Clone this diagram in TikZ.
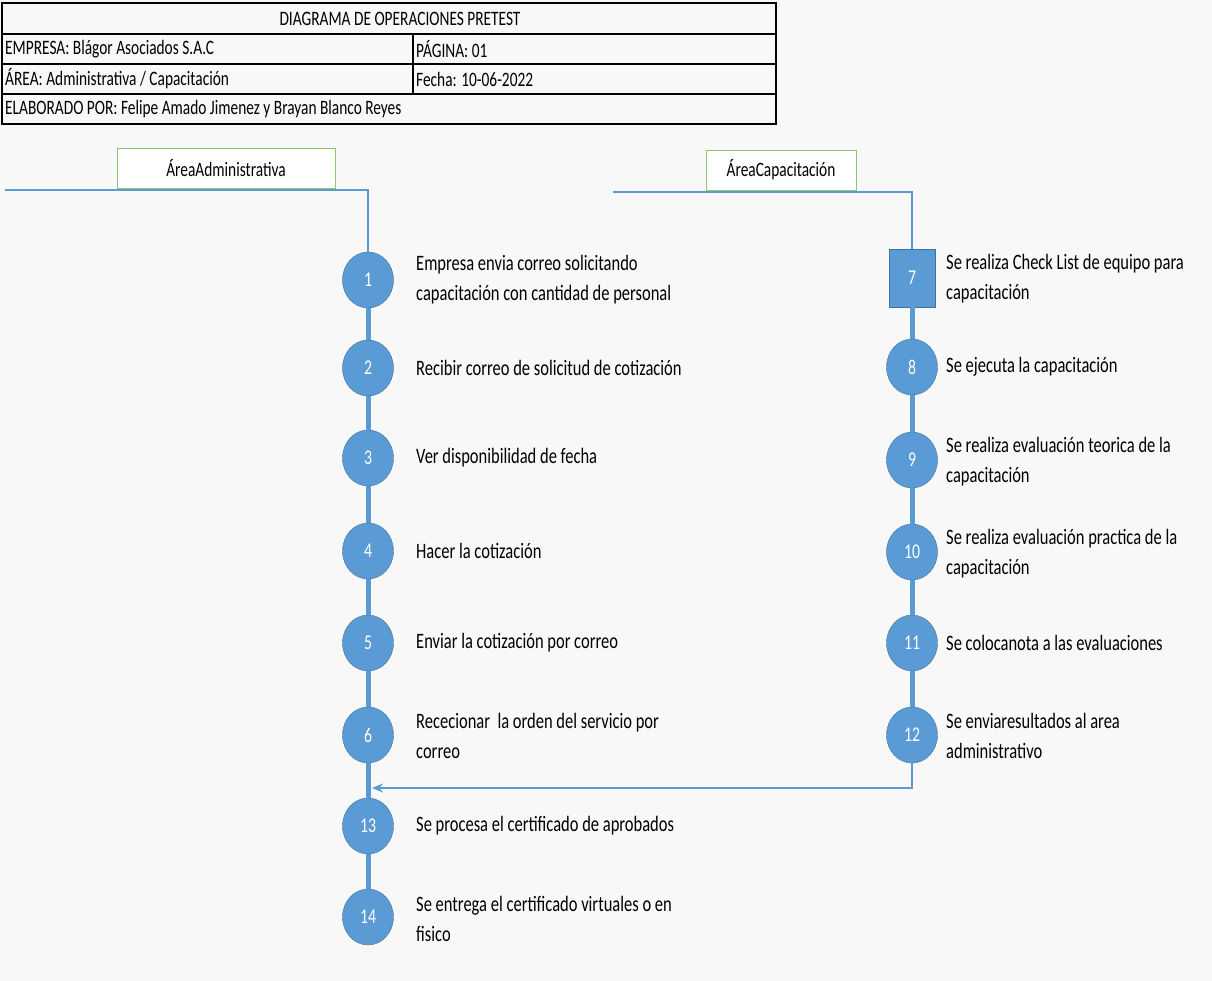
\documentclass[tikz,border=0pt]{standalone}
\usepackage{fontspec}
\setmainfont[FakeStretch=0.75]{Carlito}
\usepackage[dvipsnames]{xcolor}
\usetikzlibrary{shapes.geometric,arrows.meta}
\definecolor{opblue}{RGB}{91,155,213}
\definecolor{opedge}{RGB}{65,113,156}
\definecolor{areagreen}{RGB}{146,196,110}
\definecolor{paper}{RGB}{248,248,248}

\begin{document}
\begin{tikzpicture}[x=1pt,y=-1pt,>={Stealth[length=11pt,width=9pt]},
    op node/.style={ellipse,draw=opedge,fill=opblue,minimum width=51pt,minimum height=56pt,inner sep=0pt,text=white,font=\fontsize{21}{21}\selectfont},
    check node/.style={rectangle,draw=opedge,fill=opblue,minimum width=46pt,minimum height=58pt,inner sep=0pt,text=white,font=\fontsize{21}{21}\selectfont},
    text node/.style={anchor=west,align=left,inner sep=0pt,font=\fontsize{22}{30}\selectfont},
    head node/.style={anchor=west,inner sep=0pt,font=\fontsize{20.5}{20.5}\selectfont},
    area node/.style={rectangle,draw=areagreen,fill=white,minimum height=40pt,font=\fontsize{20.5}{20.5}\selectfont},
    flow/.style={opblue,line width=5pt},
    lane/.style={opblue,line width=2.5pt}]

    \fill[paper] (0,0) rectangle (1212,981);
    \useasboundingbox (0,0) rectangle (1212,981);

    % cabecera
    \draw[line width=1.3pt] (2,3) rectangle (776,124);
    \draw[line width=1.3pt] (2,34) -- (776,34);
    \draw[line width=1.3pt] (2,64) -- (776,64);
    \draw[line width=1.3pt] (2,94) -- (776,94);
    \draw[line width=1.3pt] (413,34) -- (413,94);
    \node[inner sep=0pt,font=\fontsize{20.5}{20.5}\selectfont] (title) at (400,19) {DIAGRAMA DE OPERACIONES PRETEST};
    \node[head node] (empresa) at (5,49) {EMPRESA: Blágor Asociados S.A.C};
    \node[head node] (pagina) at (416,49) {PÁGINA: 01};
    \node[head node] (area) at (5,79) {ÁREA: Administrativa / Capacitación};
    \node[head node] (fecha) at (416,79) {Fecha: 10-06-2022};
    \node[head node] (autor) at (5,109) {ELABORADO POR: Felipe Amado Jimenez y Brayan Blanco Reyes};

    % areas
    \coordinate (admstart) at (5,190);
    \coordinate (capstart) at (613,192);
    \node[area node,minimum width=218pt] (admin) at (226,168) {ÁreaAdministrativa};
    \node[area node,minimum width=150pt] (capac) at (781,170) {ÁreaCapacitación};

    % area administrativa
    \node[op node] (1) at (368,280) {1};
    \node[op node] (2) at (368,368) {2};
    \node[op node] (3) at (368,458) {3};
    \node[op node] (4) at (368,551) {4};
    \node[op node] (5) at (368,643) {5};
    \node[op node] (6) at (368,735) {6};
    \node[op node] (13) at (368,826) {13};
    \node[op node] (14) at (368,917) {14};

    % area capacitacion
    \node[check node] (7) at (912,278) {7};
    \node[op node] (8) at (912,367) {8};
    \node[op node] (9) at (912,460) {9};
    \node[op node] (10) at (912,552) {10};
    \node[op node] (11) at (912,643) {11};
    \node[op node] (12) at (912,735) {12};

    \node[text node] (t1) at (416,280) {Empresa envia correo solicitando\\capacitación con cantidad de personal};
    \node[text node] (t2) at (416,368) {Recibir correo de solicitud de cotización};
    \node[text node] (t3) at (416,458) {Ver disponibilidad de fecha};
    \node[text node] (t4) at (416,551) {Hacer la cotización};
    \node[text node] (t5) at (416,643) {Enviar la cotización por correo};
    \node[text node] (t6) at (416,736) {Rececionar \ la orden del servicio por\\correo};
    \node[text node] (t13) at (416,826) {Se procesa el certificado de aprobados};
    \node[text node] (t14) at (416,919) {Se entrega el certificado virtuales o en\\fisico};
    \node[text node] (t7) at (946,279) {Se realiza Check List de equipo para\\capacitación};
    \node[text node] (t8) at (946,367) {Se ejecuta la capacitación};
    \node[text node] (t9) at (946,462) {Se realiza evaluación teorica de la\\capacitación};
    \node[text node] (t10) at (946,554) {Se realiza evaluación practica de la\\capacitación};
    \node[text node] (t11) at (946,643) {Se colocanota a las evaluaciones};
    \node[text node] (t12) at (946,736) {Se enviaresultados al area\\administrativo};

    \draw[lane] (admstart) -| (1);
    \draw[lane] (capstart) -| (7);

    \draw[flow] (1) -- (2);
    \draw[flow] (2) -- (3);
    \draw[flow] (3) -- (4);
    \draw[flow] (4) -- (5);
    \draw[flow] (5) -- (6);
    \draw[flow] (6) -- (13);
    \draw[flow] (13) -- (14);
    \draw[flow] (7) -- (8);
    \draw[flow] (8) -- (9);
    \draw[flow] (9) -- (10);
    \draw[flow] (10) -- (11);
    \draw[flow] (11) -- (12);

    \coordinate (merge) at (372,788);
    \draw[->,opblue,line width=2pt] (12) |- (merge);
\end{tikzpicture}
\end{document}
